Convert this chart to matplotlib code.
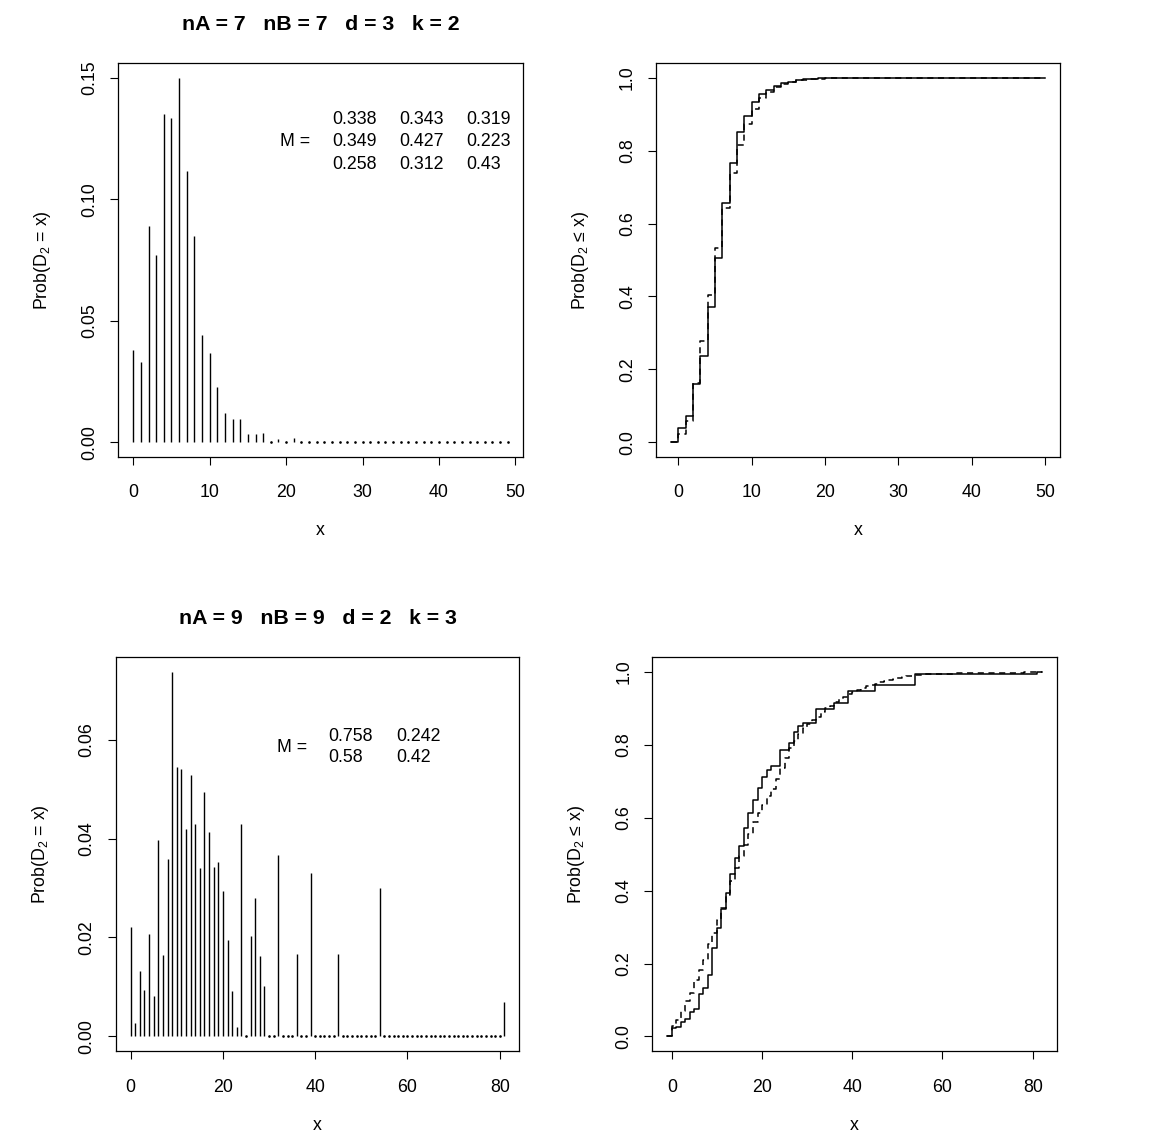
import matplotlib
matplotlib.use("Agg")
import matplotlib.pyplot as plt
import numpy as np

plt.rcParams['font.family'] = ['Liberation Sans', 'DejaVu Sans']
plt.rcParams['mathtext.fontset'] = 'custom'
plt.rcParams['mathtext.rm'] = 'Liberation Sans'
plt.rcParams['mathtext.it'] = 'Liberation Sans:italic'

# --- case 1: nA = 7, nB = 7, d = 3, k = 2 ---
title_a = "nA = 7   nB = 7   d = 3   k = 2"
x_a = list(range(50))
pmf_a = [0.0378, 0.0330, 0.0890, 0.0770, 0.1352, 0.1335, 0.1500, 0.1118, 0.0850, 0.0440,
         0.0366, 0.0229, 0.0119, 0.0096, 0.0095, 0.0032, 0.0034, 0.0036, 0.0000, 0.0014,
         0.0000, 0.0019] + [0.0] * 28
approx_a = [0.021, 0.058, 0.163, 0.279, 0.405, 0.532, 0.644, 0.738, 0.815, 0.873,
            0.915, 0.945, 0.962, 0.975, 0.983, 0.989, 0.993, 0.995, 0.997, 0.998,
            0.999, 0.999] + [1.0] * 28
M_a = [["0.338", "0.343", "0.319"],
       ["0.349", "0.427", "0.223"],
       ["0.258", "0.312", "0.43"]]

# --- case 2: nA = 9, nB = 9, d = 2, k = 3 ---
title_b = "nA = 9   nB = 9   d = 2   k = 3"
x_b = list(range(82))
pmf_b_support = [0, 1, 2, 3, 4, 5, 6, 7, 8, 9, 10, 11, 12, 13, 14, 15, 16, 17, 18, 19,
                 20, 21, 22, 23, 24, 26, 27, 28, 29, 32, 36, 39, 45, 54, 81]
pmf_b_values = [0.0222, 0.0027, 0.0133, 0.0093, 0.0207, 0.0082, 0.0397, 0.0165, 0.0358, 0.0737,
                0.0545, 0.0541, 0.0420, 0.0528, 0.0429, 0.0340, 0.0495, 0.0413, 0.0342, 0.0352,
                0.0294, 0.0194, 0.0091, 0.0020, 0.0430, 0.0204, 0.0280, 0.0163, 0.0102, 0.0366,
                0.0166, 0.0331, 0.0167, 0.0300, 0.0069]
approx_b = [0.028, 0.046, 0.069, 0.096, 0.119, 0.156, 0.183, 0.210, 0.254, 0.285,
            0.320, 0.352, 0.388, 0.425, 0.462, 0.495, 0.526, 0.555, 0.587, 0.612,
            0.636, 0.660, 0.680, 0.705, 0.735, 0.765, 0.790, 0.810, 0.830, 0.846,
            0.858, 0.868, 0.877, 0.889, 0.900, 0.907, 0.918, 0.925, 0.932, 0.938,
            0.944, 0.950, 0.956, 0.960, 0.965, 0.968, 0.971, 0.974, 0.977, 0.980,
            0.983, 0.985, 0.988, 0.990, 0.991, 0.992, 0.993, 0.993, 0.994, 0.994,
            0.995, 0.995, 0.995, 0.996, 0.996, 0.996, 0.996, 0.997, 0.997, 0.997,
            0.997, 0.997, 0.998, 0.998, 0.998, 0.998, 0.998, 0.998, 0.999, 0.999,
            0.999, 1.000]
M_b = [["0.758", "0.242"],
       ["0.58", "0.42"]]

pmf_b = np.zeros(len(x_b))
pmf_b[pmf_b_support] = pmf_b_values

FS = 12.75
W, H = 1169, 1135


def axes_px(fig, left, top, right, bottom):
    return fig.add_axes([left / W, 1 - bottom / H, (right - left) / W, (bottom - top) / H])


def r_style(ax, xticks, yticks, yfmt):
    ax.set_xticks(xticks)
    ax.set_yticks(yticks)
    ax.set_yticklabels([yfmt.format(v) for v in yticks], rotation=90, va='center')
    ax.tick_params(direction='out', length=6, width=0.8, labelsize=FS)
    ax.tick_params(axis='x', pad=14)
    ax.tick_params(axis='y', pad=8.5)
    for s in ax.spines.values():
        s.set_linewidth(0.9)
    ax.set_xlabel("x", fontsize=FS, labelpad=15)


def pad_lim(lo, hi):
    r = hi - lo
    return lo - 0.04 * r, hi + 0.04 * r


def pmf_panel(ax, x, p, title, M, mx, my, ylab):
    x = np.asarray(x)
    p = np.asarray(p)
    ax.vlines(x, 0, p, color='black', lw=1.0)
    zero = p < 0.0005
    ax.plot(x[zero], p[zero], ls='none', marker='o', ms=0.9, color='black')
    ax.set_xlim(*pad_lim(x.min(), x.max()))
    ax.set_ylim(*pad_lim(0, p.max()))
    ax.set_title(title, fontsize=15.3, fontweight='bold', pad=24)
    ax.set_ylabel(ylab, fontsize=FS, labelpad=20)
    # matrix M
    mid = (my[0] + my[-1]) / 2
    ax.text(mx[0], mid, "M =", transform=ax.transAxes, fontsize=FS, va='center', ha='left')
    for i, row in enumerate(M):
        for j, val in enumerate(row):
            ax.text(mx[j + 1], my[i], val, transform=ax.transAxes, fontsize=FS,
                    va='center', ha='left')


def cdf_panel(ax, x, p, approx, ylab):
    x = np.asarray(x)
    cdf = np.cumsum(p)
    xs = np.concatenate([[x[0] - 1], x, [x[-1] + 1]])
    ys = np.concatenate([[0], cdf, [cdf[-1]]])
    ya = np.concatenate([[0], approx, [approx[-1]]])
    ax.step(xs, ya, where='post', color='black', lw=1.1, ls=(0, (4, 3)))
    ax.step(xs, ys, where='post', color='black', lw=1.1)
    ax.set_xlim(*pad_lim(xs.min(), xs.max()))
    ax.set_ylim(*pad_lim(0, 1))
    ax.set_ylabel(ylab, fontsize=FS, labelpad=20)


fig = plt.figure(figsize=(W / 100, H / 100), dpi=100)

ax1 = axes_px(fig, 118.3, 63.3, 522.7, 456.7)
pmf_panel(ax1, x_a, pmf_a, title_a, M_a,
          [0.400, 0.528, 0.694, 0.861], [0.856, 0.801, 0.744], "Prob(D$_2$ = x)")
r_style(ax1, [0, 10, 20, 30, 40, 50], [0.0, 0.05, 0.10, 0.15], "{:.2f}")

ax2 = axes_px(fig, 656.0, 63.3, 1059.8, 456.7)
cdf_panel(ax2, x_a, pmf_a, approx_a, "Prob(D$_2$ \u2264 x)")
r_style(ax2, [0, 10, 20, 30, 40, 50], [0.0, 0.2, 0.4, 0.6, 0.8, 1.0], "{:.1f}")

ax3 = axes_px(fig, 115.7, 657.3, 519.3, 1051.0)
pmf_panel(ax3, x_b, pmf_b, title_b, M_b,
          [0.399, 0.527, 0.694], [0.798, 0.746], "Prob(D$_2$ = x)")
r_style(ax3, [0, 20, 40, 60, 80], [0.0, 0.02, 0.04, 0.06], "{:.2f}")

ax4 = axes_px(fig, 652.3, 657.3, 1056.7, 1051.0)
cdf_panel(ax4, x_b, pmf_b, approx_b, "Prob(D$_2$ \u2264 x)")
r_style(ax4, [0, 20, 40, 60, 80], [0.0, 0.2, 0.4, 0.6, 0.8, 1.0], "{:.1f}")

fig.savefig("out.png", dpi=100)
